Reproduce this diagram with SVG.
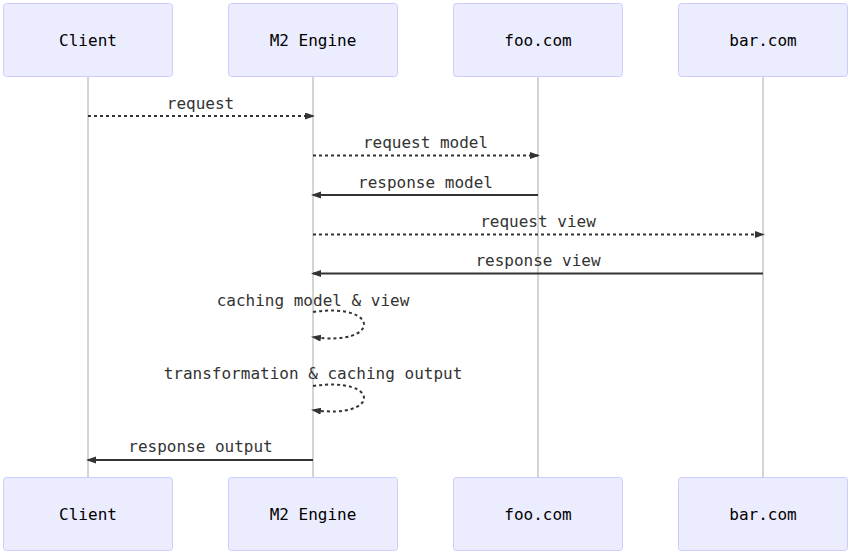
<svg xmlns="http://www.w3.org/2000/svg" width="853" height="555" viewBox="0 0 853 555">
<style>
.actor{fill:#ECECFF;stroke:#CCCCFF;stroke-width:1;}
.atext{font-family:"DejaVu Sans Mono","Liberation Mono",monospace;font-size:16px;fill:#000;text-anchor:middle;}
.mtext{font-family:"DejaVu Sans Mono","Liberation Mono",monospace;font-size:16px;fill:#333;text-anchor:middle;}
.life{stroke:#aaa;stroke-width:1;fill:none;}
.solid{stroke:#333;stroke-width:2;fill:none;}
.dot{stroke:#333;stroke-width:2;stroke-dasharray:3,3;fill:none;}
</style>
<defs>
<marker id="ah" markerUnits="userSpaceOnUse" markerWidth="12" markerHeight="10" refX="8" refY="3.5" orient="auto">
<path d="M0,0 L10,3.5 L0,7 z" fill="#333"/>
</marker>
</defs>
<rect width="853" height="555" fill="#fff"/>
<g id="lifelines">
<line class="life" x1="88" y1="77" x2="88" y2="477"/>
<line class="life" x1="313" y1="77" x2="313" y2="477"/>
<line class="life" x1="538" y1="77" x2="538" y2="477"/>
<line class="life" x1="763" y1="77" x2="763" y2="477"/>
</g>
<g id="client-top"><rect class="actor" x="3.5" y="3.5" width="169" height="73" rx="3"/><text class="atext" x="88" y="45.5">Client</text></g>
<g id="engine-top"><rect class="actor" x="228.5" y="3.5" width="169" height="73" rx="3"/><text class="atext" x="313" y="45.5">M2 Engine</text></g>
<g id="foo-top"><rect class="actor" x="453.5" y="3.5" width="169" height="73" rx="3"/><text class="atext" x="538" y="45.5">foo.com</text></g>
<g id="bar-top"><rect class="actor" x="678.5" y="3.5" width="169" height="73" rx="3"/><text class="atext" x="763" y="45.5">bar.com</text></g>
<g id="client-bottom"><rect class="actor" x="3.5" y="477.5" width="169" height="73" rx="3"/><text class="atext" x="88" y="519.5">Client</text></g>
<g id="engine-bottom"><rect class="actor" x="228.5" y="477.5" width="169" height="73" rx="3"/><text class="atext" x="313" y="519.5">M2 Engine</text></g>
<g id="foo-bottom"><rect class="actor" x="453.5" y="477.5" width="169" height="73" rx="3"/><text class="atext" x="538" y="519.5">foo.com</text></g>
<g id="bar-bottom"><rect class="actor" x="678.5" y="477.5" width="169" height="73" rx="3"/><text class="atext" x="763" y="519.5">bar.com</text></g>
<g id="connectors">
<line class="dot" x1="88" y1="116" x2="313" y2="116" marker-end="url(#ah)"/>
<line class="dot" x1="313" y1="155.5" x2="538" y2="155.5" marker-end="url(#ah)"/>
<line class="solid" x1="538" y1="195" x2="313" y2="195" marker-end="url(#ah)"/>
<line class="dot" x1="313" y1="234.5" x2="763" y2="234.5" marker-end="url(#ah)"/>
<line class="solid" x1="763" y1="273.5" x2="313" y2="273.5" marker-end="url(#ah)"/>
<path class="dot" d="M313,312 C381,302 381,347 313,337" marker-end="url(#ah)"/>
<path class="dot" d="M313,386 C381,376 381,420 313,410" marker-end="url(#ah)"/>
<line class="solid" x1="313" y1="460" x2="88" y2="460" marker-end="url(#ah)"/>
</g>
<g id="labels">
<text class="mtext" x="200.5" y="108.5">request</text>
<text class="mtext" x="425.5" y="148">request model</text>
<text class="mtext" x="425.5" y="187.5">response model</text>
<text class="mtext" x="538" y="227">request view</text>
<text class="mtext" x="538" y="266">response view</text>
<text class="mtext" x="313" y="306">caching model &amp; view</text>
<text class="mtext" x="313" y="379">transformation &amp; caching output</text>
<text class="mtext" x="200.5" y="452">response output</text>
</g>
</svg>
